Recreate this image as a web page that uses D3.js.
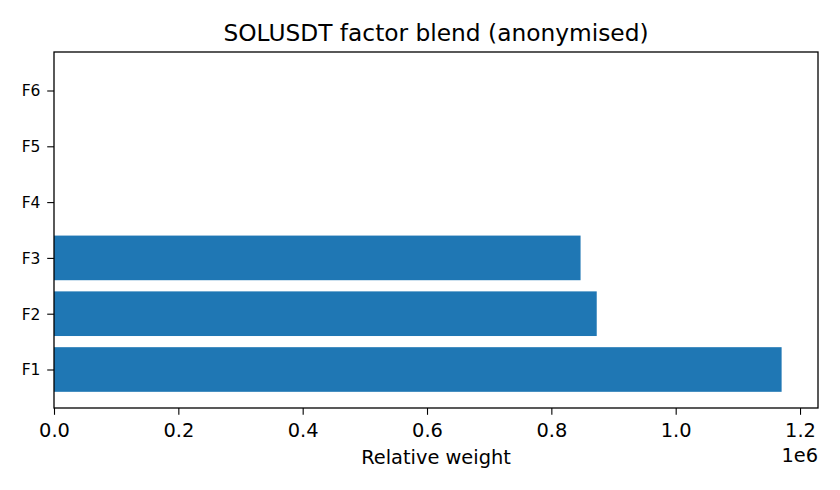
<!DOCTYPE html>
<html>
<head>
<meta charset="utf-8">
<script src="https://cdn.jsdelivr.net/npm/d3@7"></script>
<style>
  body { margin: 0; background: white; }
  text { font-family: "DejaVu Sans", sans-serif; fill: #000; }
</style>
</head>
<body>
<div id="chart"></div>
<script>
const width = 840;
const height = 490;
const margin = {top: 52, right: 22, bottom: 82, left: 54};

// factor weights (units of 1e6)
const factors = ["F1", "F2", "F3", "F4", "F5", "F6"];
const weights = [1170400, 873000, 847000, 0, 0, 0];
const xTicks = [0, 0.2e6, 0.4e6, 0.6e6, 0.8e6, 1.0e6, 1.2e6];

const svg = d3.select("#chart")
  .append("svg")
  .attr("width", width)
  .attr("height", height);

const maxW = d3.max(weights);
const x = d3.scaleLinear()
  .domain([0, maxW * 1.05])
  .range([margin.left, width - margin.right]);

// matplotlib style: categories at 0..n-1, bar height 0.8, 5% margins
const n = factors.length;
const pad = (n - 0.2) * 0.05;
const y = d3.scaleLinear()
  .domain([-0.4 - pad, n - 0.6 + pad])
  .range([height - margin.bottom, margin.top]);

const barH = Math.abs(y(0.8) - y(0));

svg.selectAll("rect.bar")
  .data(weights)
  .enter()
  .append("rect")
  .attr("class", "bar")
  .attr("x", x(0))
  .attr("y", (d, i) => y(i + 0.4))
  .attr("width", d => x(d) - x(0))
  .attr("height", barH)
  .attr("fill", "#1f77b4");

// x axis
const xAxis = svg.append("g")
  .attr("transform", `translate(0, ${height - margin.bottom})`)
  .call(d3.axisBottom(x)
    .tickValues(xTicks)
    .tickFormat(d => (d / 1e6).toFixed(1))
    .tickSize(6.8)
    .tickPadding(6.8));
xAxis.select(".domain").remove();
xAxis.selectAll(".tick line").attr("stroke", "#000").attr("stroke-width", 1.1);
xAxis.selectAll(".tick text")
  .attr("font-size", "19.4px")
  .attr("dy", null)
  .attr("y", 437 - (height - margin.bottom))
  .attr("dominant-baseline", "alphabetic");

// y axis
const yAxis = svg.append("g")
  .attr("transform", `translate(${margin.left}, 0)`)
  .call(d3.axisLeft(y)
    .tickValues(d3.range(n))
    .tickFormat(i => factors[i])
    .tickSize(6.8)
    .tickPadding(6.8));
yAxis.select(".domain").remove();
yAxis.selectAll(".tick line").attr("stroke", "#000").attr("stroke-width", 1.1);
yAxis.selectAll(".tick text")
  .attr("font-size", "15.5px")
  .attr("dy", "0.35em");

// frame
svg.append("rect")
  .attr("x", margin.left)
  .attr("y", margin.top)
  .attr("width", width - margin.left - margin.right)
  .attr("height", height - margin.top - margin.bottom)
  .attr("fill", "none")
  .attr("stroke", "#000")
  .attr("stroke-width", 1.3);

svg.append("text")
  .attr("x", (margin.left + width - margin.right) / 2)
  .attr("y", 41)
  .attr("text-anchor", "middle")
  .attr("font-size", "23.3px")
  .text("SOLUSDT factor blend (anonymised)");

svg.append("text")
  .attr("x", (margin.left + width - margin.right) / 2)
  .attr("y", 464)
  .attr("text-anchor", "middle")
  .attr("font-size", "19.4px")
  .text("Relative weight");

svg.append("text")
  .attr("x", width - margin.right)
  .attr("y", 462)
  .attr("text-anchor", "end")
  .attr("font-size", "19.4px")
  .text("1e6");
</script>
</body>
</html>
